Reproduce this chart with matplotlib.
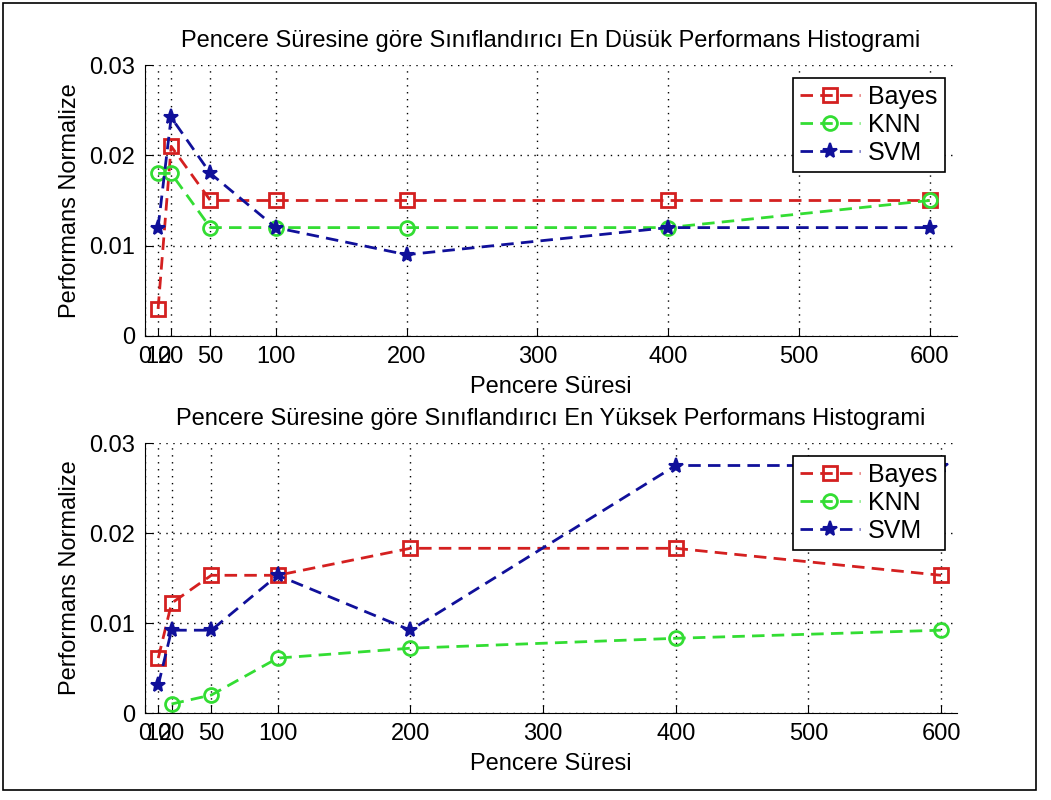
import numpy as np
import matplotlib
matplotlib.use("Agg")
from matplotlib import pyplot as plt
from matplotlib.patches import Rectangle

plt.rcParams['font.family'] = ['Liberation Sans', 'DejaVu Sans']
plt.rcParams['font.size'] = 17

pencere = [10, 20, 50, 100, 200, 400, 600]
xticks = [0, 10, 20, 50, 100, 200, 300, 400, 500, 600]
yticks = [0, 0.01, 0.02, 0.03]
ytick_labels = ['0', '0.01', '0.02', '0.03']

# en dusuk performans
bayes_min = [0.003, 0.021, 0.015, 0.015, 0.015, 0.015, 0.015]
knn_min = [0.018, 0.018, 0.012, 0.012, 0.012, 0.012, 0.015]
svm_min = [0.012, 0.0242, 0.018, 0.012, 0.009, 0.012, 0.012]

# en yuksek performans
bayes_max = [0.0061, 0.0122, 0.0153, 0.0153, 0.0183, 0.0183, 0.0153]
knn_max = [np.nan, 0.001, 0.002, 0.0061, 0.0072, 0.0083, 0.0092]
svm_max = [0.0031, 0.0092, 0.0092, 0.0153, 0.0092, 0.0275, 0.0275]

red = '#d42020'
green = '#33dd33'
blue = '#10109a'

fig = plt.figure(figsize=(10.51, 8), dpi=100)
fig.patches.append(Rectangle((3/1051, 1 - 790/800), 1033/1051, 787/800,
                             transform=fig.transFigure, fill=False,
                             edgecolor='black', linewidth=1.2))

ax1 = fig.add_axes([145/1051, 1 - 336/800, 812/1051, 271/800])
ax2 = fig.add_axes([145/1051, 1 - 713/800, 812/1051, 270/800])


def draw(ax, b, k, s, title, xmax):
    kw = dict(linestyle='--', dashes=(4.5, 2.6), linewidth=2.0, markersize=10,
              markeredgewidth=2.0)
    ax.plot(pencere, b, color=red, marker='s', markerfacecolor='none', label='Bayes', **kw)
    ax.plot(pencere, k, color=green, marker='o', markerfacecolor='none', label='KNN', **kw)
    ax.plot(pencere, s, color=blue, marker='*', markersize=11, label='SVM',
            linestyle='--', dashes=(4.5, 2.6), linewidth=2.0, markeredgewidth=1.5)
    ax.set_xlim(0, xmax)
    ax.set_ylim(0, 0.03)
    ax.set_xticks(xticks)
    ax.set_yticks(yticks)
    ax.set_yticklabels(ytick_labels)
    ax.grid(True, linestyle=(0, (1, 4)), color='black', linewidth=1.0)
    ax.spines['top'].set_visible(False)
    ax.spines['right'].set_visible(False)
    ax.tick_params(direction='in', length=6, color='black', labelsize=17, pad=7)
    ax.set_xlabel('Pencere Süresi', fontsize=17, labelpad=6)
    ax.set_ylabel('Performans Normalize', fontsize=17, labelpad=6)
    ax.set_title(title, fontsize=17, pad=13)
    leg = ax.legend(loc='upper right', fancybox=False, framealpha=1,
                    edgecolor='black', fontsize=18, handlelength=2.4,
                    borderaxespad=0.5, labelspacing=0.15, handletextpad=0.3,
                    borderpad=0.3)
    leg.get_frame().set_linewidth(1.2)


draw(ax1, bayes_min, knn_min, svm_min,
     'Pencere Süresine göre Sınıflandırıcı En Düsük Performans Histogrami', 621)
draw(ax2, bayes_max, knn_max, svm_max,
     'Pencere Süresine göre Sınıflandırıcı En Yüksek Performans Histogrami', 612)

fig.savefig('out.png', dpi=100)
